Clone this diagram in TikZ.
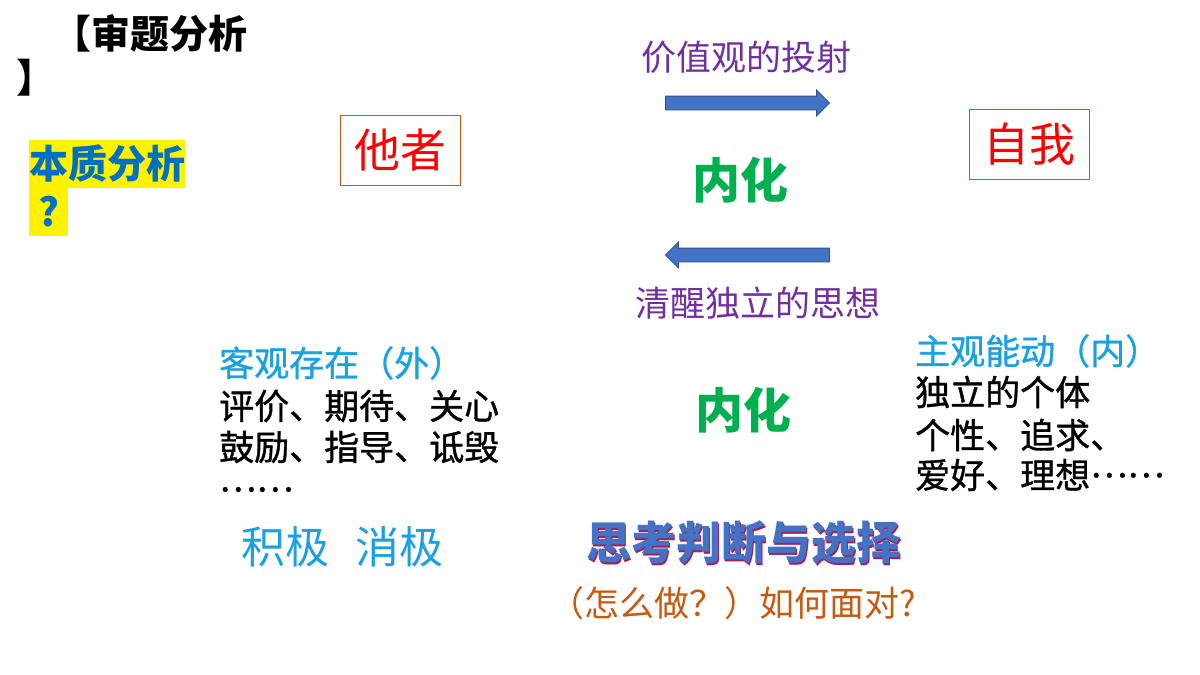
\documentclass[tikz,border=0pt]{standalone}
\usepackage{fontspec}
\setmainfont{Noto Sans CJK SC}
\newfontfamily\listfont[FakeBold=1]{Noto Sans CJK SC}
\usepackage{tikz}
\usetikzlibrary{shapes.arrows}
\definecolor{headpurple}{RGB}{112,48,160}
\definecolor{namered}{RGB}{255,0,0}
\definecolor{boxbrown}{RGB}{197,90,17}
\definecolor{innergreen}{RGB}{0,176,80}
\definecolor{sideblue}{RGB}{27,161,226}
\definecolor{keyblue}{RGB}{0,112,192}
\definecolor{arrowblue}{RGB}{68,114,196}
\definecolor{arrowedge}{RGB}{47,82,143}
\definecolor{shadowred}{RGB}{165,30,85}
\definecolor{askorange}{RGB}{197,90,17}

\begin{document}
\begin{tikzpicture}[x=1pt,y=-1pt,inner sep=0pt]
\tikzstyle{namebox}=[draw=boxbrown,line width=1pt,minimum width=120pt,minimum height=70pt,text=namered]
\tikzstyle{blockarrow}=[single arrow,draw=arrowedge,fill=arrowblue,line width=0.8pt,inner xsep=0pt,inner ysep=6.5pt,minimum height=164pt,single arrow head extend=6pt,single arrow head indent=0pt]
\tikzstyle{listline}=[anchor=west,text=black,font=\fontsize{35pt}{42}\listfont]
\tikzset{font=\fontsize{35pt}{42}\selectfont}

        \useasboundingbox[fill=white] (0,0) rectangle (1200,675);

        \node[anchor=west,font=\fontsize{39pt}{45}\selectfont\bfseries]                (title1)   at (52,33)          {【审题分析};
        \node[anchor=west,font=\fontsize{39pt}{45}\selectfont\bfseries]                (title2)   at (16,78)          {】};

        \node[anchor=west,fill=yellow,text=keyblue,minimum height=48pt,font=\fontsize{39pt}{48}\selectfont\bfseries]   (key1)   at (29,164)   {本质分析};
        \node[anchor=west,fill=yellow,text=keyblue,minimum height=48pt,minimum width=39pt,font=\fontsize{39pt}{48}\selectfont\bfseries]   (key2)   at (29,212)   {?};

        \node[namebox,font=\fontsize{46pt}{50}\selectfont]                (other)   at (400,150)          {他者};
        \node[namebox,font=\fontsize{46pt}{50}\selectfont]                (self)    at (1029,144)         {自我};

        \node[anchor=west,text=headpurple]                (proj)   at (641,57)          {价值观的投射};
        \node[blockarrow]                                  (toself)   at (744,103)      {};
        \node[text=innergreen,font=\fontsize{48pt}{50}\selectfont\bfseries]                (inner1)   at (740,180)          {内化};
        \node[blockarrow,shape border rotate=180]          (toother)  at (751,255)      {};
        \node[anchor=west,text=headpurple]                (clear)   at (635,303)          {清醒独立的思想};

        \node[anchor=west,text=sideblue,font=\fontsize{35pt}{42}\listfont]                (outside)   at (219,363)          {客观存在（外）};
        \node[listline]                (out1)   at (219,406)          {评价、期待、关心};
        \node[listline]                (out2)   at (219,447)          {鼓励、指导、诋毁};
        \node[listline,text height=5pt,text depth=0pt]                (out3)   at (219,489)          {……};
        \node[anchor=west,text=sideblue,font=\fontsize{44pt}{48}\selectfont]                (posneg)   at (241,547)          {积极\hspace{0.6em}消极};

        \node[text=innergreen,font=\fontsize{48pt}{50}\selectfont\bfseries]                (inner2)   at (743,410)          {内化};

        \node[anchor=west,text=sideblue,font=\fontsize{35pt}{42}\listfont]                (inside)   at (915,351)          {主观能动（内）};
        \node[listline]                (in1)   at (915,392)          {独立的个体};
        \node[listline]                (in2)   at (915,435)          {个性、追求、};
        \node[listline]                (in3)   at (915,475)          {爱好、理想\raisebox{11pt}{……}};

        \node[anchor=west,text=shadowred,font=\fontsize{45pt}{50}\selectfont\bfseries]                (think-shadow)   at (587.5,544.5)          {思考判断与选择};
        \node[anchor=west,text=arrowblue,font=\fontsize{45pt}{50}\selectfont\bfseries]                (think)   at (586,543)          {思考判断与选择};
        \node[anchor=west,text=askorange]                (ask)   at (549,603)          {（怎么做？）如何面对?};

\end{tikzpicture}
\end{document}
